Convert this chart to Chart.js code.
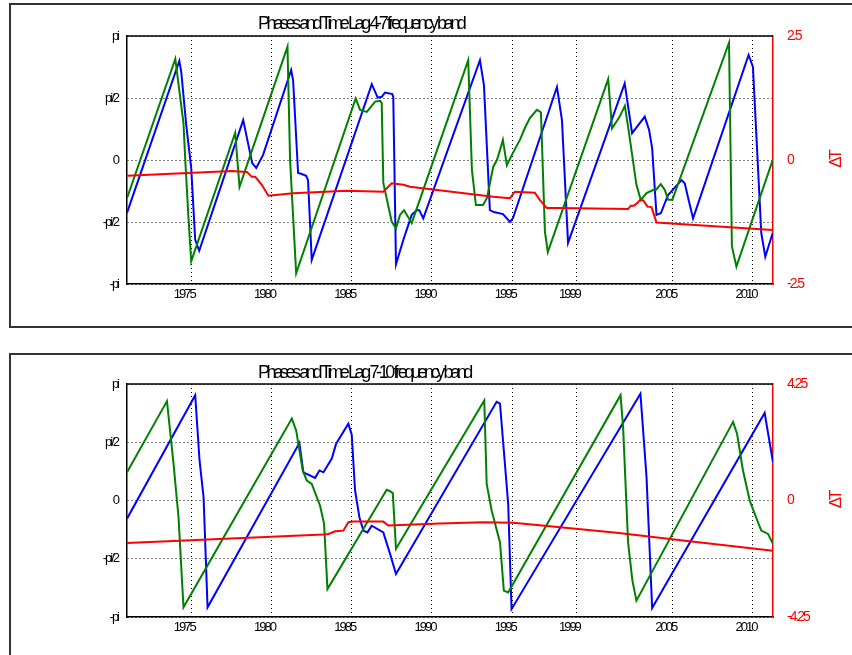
<!DOCTYPE html>
<html>
<head>
<meta charset="utf-8">
<script src="https://cdn.jsdelivr.net/npm/chart.js@4.4.0/dist/chart.umd.min.js"></script>
<style>
  body { margin: 0; background: #fff; width: 852px; height: 655px; overflow: hidden; position: relative; }
  .frame { position: absolute; left: 9px; width: 900px; border: 2px solid #333; box-sizing: border-box; }
  #frame1 { top: 3px; height: 325px; }
  #frame2 { top: 353px; height: 400px; }
  canvas { position: absolute; left: 0; }
  #chart1 { top: 0; }
  #chart2 { top: 340px; }
</style>
</head>
<body>
<div class="frame" id="frame1"></div>
<div class="frame" id="frame2"></div>
<canvas id="chart1" width="852" height="330"></canvas>
<canvas id="chart2" width="852" height="315"></canvas>
<script>
// ticks
var yearTicks = [1975, 1980, 1985, 1990, 1995, 1999, 2005, 2010];
var yearLabels = ['1975', '1980', '1985', '1990', '1995', '1999', '2005', '2010'];
var phaseTicks = [-Math.PI, -Math.PI / 2, 0, Math.PI / 2, Math.PI];
var phaseLabels = ['-pi', '-pi/2', '0', 'pi/2', 'pi'];
var lagTicks1 = [-2.5, 0, 2.5];
var lagLabels1 = ['-2.5', '0', '2.5'];
var lagTicks2 = [-4.25, 0, 4.25];
var lagLabels2 = ['-4.25', '0', '4.25'];

// panel 1 : 4-7 frequency band
var blueYears1 = [1971.00, 1974.26, 1974.38, 1974.69, 1975.00, 1975.25, 1975.50, 1978.24, 1978.80, 1979.05,
  1979.48, 1981.23, 1981.35, 1981.66, 1981.85, 1982.16, 1982.28, 1982.51, 1986.25, 1986.62,
  1986.87, 1987.08, 1987.53, 1987.59, 1987.76, 1988.22, 1988.74, 1989.05, 1989.21, 1989.46,
  1992.99, 1993.24, 1993.61, 1993.86, 1994.43, 1994.86, 1995.05, 1997.79, 1998.10, 1998.48,
  2002.01, 2002.47, 2003.26, 2003.53, 2003.72, 2003.99, 2004.26, 2004.71, 2005.55, 2005.75,
  2006.02, 2006.27, 2009.73, 2010.00, 2010.52, 2010.77, 2011.23];
var bluePhase1 = [-1.34, 2.51, 2.23, 0.89, -0.20, -2.02, -2.30, 1.01, -0.08, -0.20,
  0.13, 2.28, 2.02, -0.33, -0.35, -0.40, -0.51, -2.53, 1.92, 1.58,
  1.60, 1.71, 1.67, 1.60, -2.64, -2.02, -1.39, -1.27, -1.27, -1.48,
  2.53, 1.90, -1.27, -1.32, -1.37, -1.57, -1.47, 1.85, 1.01, -2.10,
  1.94, 0.68, 1.10, 0.76, 0.30, -1.39, -1.35, -0.89, -0.51, -0.59,
  -1.06, -1.48, 2.66, 2.36, -1.85, -2.45, -1.85];
var greenYears1 = [1971.00, 1974.01, 1974.52, 1974.63, 1974.82, 1975.00, 1977.74, 1978.01, 1981.00, 1981.16,
  1981.54, 1985.25, 1985.52, 1985.94, 1986.46, 1986.77, 1986.87, 1986.97, 1987.49, 1987.76,
  1988.01, 1988.26, 1988.74, 1992.26, 1992.49, 1992.74, 1993.18, 1993.43, 1993.82, 1994.05,
  1994.24, 1994.42, 1994.67, 1994.98, 1995.48, 1995.79, 1996.10, 1996.54, 1996.79, 1997.04,
  1997.22, 2000.98, 2001.22, 2001.70, 2002.02, 2002.28, 2002.74, 2003.01, 2003.37, 2003.78,
  2003.95, 2004.26, 2004.51, 2004.71, 2004.98, 2008.51, 2008.69, 2008.97, 2011.23];
var greenPhase1 = [-0.97, 2.56, 0.93, 0.00, -1.39, -2.57, 0.69, -0.68, 2.87, 0.00,
  -2.87, 1.56, 1.27, 1.22, 1.48, 1.50, 1.44, -0.58, -1.56, -1.73,
  -1.39, -1.27, -1.60, 2.53, -0.25, -1.14, -1.14, -0.96, -0.17, 0.00,
  0.25, 0.51, -0.13, 0.13, 0.51, 0.81, 1.06, 1.27, 1.21, -1.82,
  -2.33, 2.05, 0.80, 1.10, 1.37, 0.68, -0.63, -1.01, -0.84, -0.76,
  -0.76, -0.61, -0.76, -1.01, -1.01, 2.97, -2.19, -2.70, 0.00];
var redYears1 = [1971.00, 1977.54, 1978.47, 1978.78, 1978.99, 1979.40, 1979.81, 1981.35, 1984.69, 1986.97,
  1987.49, 1988.22, 1988.63, 1993.82, 1994.86, 1995.17, 1996.41, 1996.73, 1997.16, 1997.97,
  2002.22, 2002.39, 2002.59, 2002.81, 2002.95, 2003.16, 2003.43, 2003.68, 2003.99, 2011.23];
var lag1 = [-0.32, -0.22, -0.24, -0.34, -0.34, -0.50, -0.72, -0.67, -0.62, -0.64,
  -0.47, -0.50, -0.54, -0.74, -0.77, -0.64, -0.66, -0.81, -0.97, -0.97,
  -0.99, -0.92, -0.92, -0.86, -0.81, -0.81, -0.94, -0.95, -1.26, -1.41];

// panel 2 : 7-10 frequency band
var blueYears2 = [1971.00, 1975.25, 1975.52, 1975.77, 1976.02, 1981.74, 1981.99, 1982.72, 1982.99, 1983.24,
  1983.76, 1984.03, 1984.79, 1985.00, 1985.21, 1985.48, 1985.73, 1985.98, 1986.25, 1986.97,
  1987.39, 1987.76, 1994.03, 1994.24, 1994.75, 1994.96, 2002.99, 2003.37, 2003.72, 2010.73, 2011.25];
var bluePhase2 = [-0.49, 2.84, 1.08, 0.09, -2.88, 1.55, 0.76, 0.61, 0.81, 0.76,
  1.13, 1.53, 2.07, 1.78, 0.27, -0.45, -0.81, -0.86, -0.68, -0.86,
  -1.44, -1.98, 2.66, 2.61, -0.09, -2.93, 2.88, 0.63, -2.90, 2.36, 1.03];
var greenYears2 = [1971.00, 1973.49, 1973.90, 1974.21, 1974.52, 1981.27, 1981.54, 1981.95, 1982.20, 1982.51,
  1983.03, 1983.28, 1983.49, 1987.18, 1987.39, 1987.56, 1987.76, 1993.26, 1993.41, 1993.72,
  1994.24, 1994.48, 1994.75, 2001.75, 2001.91, 2002.22, 2002.49, 2002.74, 2008.76, 2009.01,
  2009.38, 2009.80, 2010.11, 2010.52, 2010.94, 2011.25];
var greenPhase2 = [0.76, 2.68, 0.99, -0.45, -2.88, 2.21, 1.89, 0.81, 0.54, 0.45,
  -0.14, -0.63, -2.39, 0.29, 0.25, 0.20, -1.30, 2.70, 0.45, -0.27,
  -1.13, -2.43, -2.48, 2.84, 1.98, -1.13, -2.16, -2.70, 2.12, 1.80,
  0.81, 0.00, -0.36, -0.81, -0.90, -1.17];
var redYears2 = [1971.00, 1983.24, 1983.55, 1983.97, 1984.48, 1984.79, 1985.10, 1986.97, 1987.28, 1990.50,
  1993.20, 1995.06, 1997.35, 2001.50, 2005.64, 2011.25];
var lag2 = [-1.55, -1.24, -1.22, -1.12, -1.10, -0.79, -0.77, -0.77, -0.91, -0.84,
  -0.79, -0.81, -0.94, -1.18, -1.46, -1.83];

var font = '"Liberation Sans", Arial, sans-serif';

function toPoints(xs, ys) {
  return xs.map(function(x, i) { return { x: x, y: ys[i] }; });
}

function line(xs, ys, color, axis) {
  return {
    data: toPoints(xs, ys),
    borderColor: color,
    borderWidth: 2,
    pointRadius: 0,
    fill: false,
    tension: 0,
    yAxisID: axis
  };
}

// title, top edge of the box and the rotated ΔT label
var panelText = {
  id: 'panelText',
  beforeDraw: function(chart) {
    chart.ctx.letterSpacing = '-2px';
  },
  afterDraw: function(chart, args, opts) {
    var ctx = chart.ctx, a = chart.chartArea;
    ctx.save();
    ctx.strokeStyle = '#000';
    ctx.lineWidth = 1.5;
    ctx.beginPath();
    ctx.moveTo(a.left, a.top);
    ctx.lineTo(a.right, a.top);
    ctx.stroke();

    ctx.fillStyle = '#000';
    ctx.font = '18px ' + font;
    ctx.letterSpacing = '-3.4px';
    ctx.textAlign = 'left';
    ctx.textBaseline = 'alphabetic';
    ctx.fillText(opts.title, 258, opts.titleY);

    ctx.translate(836, (a.top + a.bottom) / 2);
    ctx.rotate(-Math.PI / 2);
    ctx.fillStyle = '#ff0000';
    ctx.font = '17px ' + font;
    ctx.letterSpacing = '-3px';
    ctx.textAlign = 'center';
    ctx.textBaseline = 'middle';
    ctx.fillText('ΔT', 0, 0);
    ctx.restore();
  }
};

function makePanel(id, p) {
  return new Chart(document.getElementById(id), {
    type: 'line',
    data: {
      datasets: [
        line(p.redX, p.redY, '#ff0000', 'y2'),
        line(p.greenX, p.greenY, '#008000', 'y'),
        line(p.blueX, p.blueY, '#0000ff', 'y')
      ]
    },
    plugins: [panelText],
    options: {
      responsive: false,
      animation: false,
      devicePixelRatio: 1,
      layout: { padding: { top: p.top, left: 0, right: 0, bottom: 0 } },
      plugins: {
        legend: { display: false },
        tooltip: { enabled: false },
        panelText: { title: p.title, titleY: p.titleY }
      },
      scales: {
        x: {
          type: 'linear',
          min: 1971,
          max: 2011.25,
          afterBuildTicks: function(s) { s.ticks = yearTicks.map(function(v) { return { value: v }; }); },
          afterFit: function(s) { s.height = p.xHeight; },
          ticks: {
            autoSkip: false, maxRotation: 0, minRotation: 0, padding: 3, labelOffset: -7,
            color: '#000', font: { family: font, size: 13 },
            callback: function(v, i) { return yearLabels[i]; }
          },
          grid: { color: '#000', lineWidth: 1, drawTicks: false },
          border: { color: '#000', width: 1.5, dash: [1, 3] }
        },
        y: {
          position: 'left',
          min: -Math.PI,
          max: Math.PI,
          afterBuildTicks: function(s) { s.ticks = phaseTicks.map(function(v) { return { value: v }; }); },
          afterFit: function(s) { s.width = 127; },
          ticks: {
            padding: 9, color: '#000', font: { family: font, size: 13 },
            callback: function(v, i) { return phaseLabels[i]; }
          },
          grid: { color: '#000', lineWidth: 1, drawTicks: false },
          border: { color: '#000', width: 1.5, dash: [1, 3] }
        },
        y2: {
          position: 'right',
          min: -p.lagMax,
          max: p.lagMax,
          afterBuildTicks: function(s) { s.ticks = p.lagTicks.map(function(v) { return { value: v }; }); },
          afterFit: function(s) { s.width = 79; },
          ticks: {
            padding: 6, color: '#ff0000', font: { family: font, size: 14 },
            callback: function(v, i) { return p.lagLabels[i]; }
          },
          grid: { display: false },
          border: { color: '#ff0000', width: 1.5 }
        }
      }
    }
  });
}

makePanel('chart1', {
  title: 'Phases and Time Lag 4-7 frequency band', titleY: 29, top: 36, xHeight: 46,
  blueX: blueYears1, blueY: bluePhase1, greenX: greenYears1, greenY: greenPhase1,
  redX: redYears1, redY: lag1, lagMax: 2.5, lagTicks: lagTicks1, lagLabels: lagLabels1
});

makePanel('chart2', {
  title: 'Phases and Time Lag 7-10 frequency band', titleY: 38, top: 44, xHeight: 38,
  blueX: blueYears2, blueY: bluePhase2, greenX: greenYears2, greenY: greenPhase2,
  redX: redYears2, redY: lag2, lagMax: 4.25, lagTicks: lagTicks2, lagLabels: lagLabels2
});
</script>
</body>
</html>
